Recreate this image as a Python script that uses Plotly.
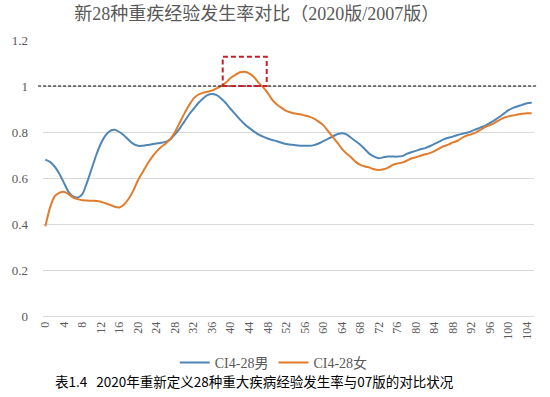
import plotly.graph_objects as go

ages = list(range(106))
tick_ages = list(range(0, 105, 4))

male = [0.68, 0.67, 0.65, 0.62, 0.58, 0.54, 0.52, 0.515, 0.53, 0.58,
        0.64, 0.70, 0.75, 0.785, 0.805, 0.81, 0.80, 0.785, 0.765, 0.748,
        0.74, 0.74, 0.743, 0.747, 0.75, 0.753, 0.757, 0.768, 0.79, 0.815,
        0.845, 0.875, 0.90, 0.925, 0.945, 0.96, 0.965, 0.96, 0.945, 0.925,
        0.90, 0.878, 0.855, 0.835, 0.818, 0.803, 0.79, 0.78, 0.772, 0.765,
        0.76, 0.753, 0.748, 0.745, 0.742, 0.74, 0.74, 0.74, 0.743, 0.75,
        0.76, 0.77, 0.78, 0.79, 0.795, 0.79, 0.775, 0.76, 0.745, 0.725,
        0.705, 0.693, 0.686, 0.69, 0.693, 0.693, 0.693, 0.695, 0.705, 0.712,
        0.718, 0.725, 0.73, 0.738, 0.748, 0.758, 0.768, 0.775, 0.78, 0.787,
        0.792, 0.797, 0.804, 0.812, 0.82, 0.828, 0.84, 0.852, 0.865, 0.88,
        0.895, 0.905, 0.912, 0.918, 0.925, 0.927]

female = [0.39, 0.47, 0.52, 0.535, 0.54, 0.53, 0.515, 0.508, 0.503, 0.502,
          0.501, 0.50, 0.497, 0.49, 0.483, 0.475, 0.472, 0.485, 0.51, 0.545,
          0.59, 0.625, 0.66, 0.69, 0.715, 0.735, 0.75, 0.77, 0.80, 0.84,
          0.88, 0.915, 0.945, 0.962, 0.97, 0.975, 0.98, 0.99, 1.00, 1.015,
          1.035, 1.048, 1.06, 1.062, 1.055, 1.04, 1.015, 0.995, 0.97, 0.94,
          0.92, 0.905, 0.892, 0.885, 0.88, 0.877, 0.872, 0.867, 0.858, 0.845,
          0.83, 0.805, 0.78, 0.755, 0.728, 0.707, 0.69, 0.67, 0.657, 0.65,
          0.645, 0.638, 0.635, 0.638, 0.645, 0.657, 0.663, 0.667, 0.675, 0.685,
          0.69, 0.697, 0.703, 0.708, 0.717, 0.728, 0.738, 0.745, 0.755, 0.762,
          0.775, 0.785, 0.79, 0.798, 0.81, 0.822, 0.83, 0.84, 0.852, 0.862,
          0.868, 0.872, 0.876, 0.879, 0.881, 0.881]

y_ticks = [0, 0.2, 0.4, 0.6, 0.8, 1.0, 1.2]
y_tick_text = ["0", "0.2", "0.4", "0.6", "0.8", "1", "1.2"]

ref_level = 1.0
box_x = [38.3, 47.8]
box_y = [1.0, 1.127]

title = "新28种重疾经验发生率对比（2020版/2007版）"
caption = "表1.4   2020年重新定义28种重大疾病经验发生率与07版的对比状况"

serif = "Liberation Serif, Noto Sans CJK SC, serif"
grey = "#595959"

fig = go.Figure()
fig.add_trace(go.Scatter(x=ages, y=male, mode="lines", name="CI4-28男",
                         line=dict(color="#4f86b6", width=2, shape="spline", smoothing=0.6)))
fig.add_trace(go.Scatter(x=ages, y=female, mode="lines", name="CI4-28女",
                         line=dict(color="#e07c2c", width=2, shape="spline", smoothing=0.6)))

fig.add_shape(type="line", xref="paper", yref="y", x0=-0.01, x1=1.006,
              y0=ref_level, y1=ref_level, line=dict(color="black", width=1.2, dash="3px,2px"))
fig.add_shape(type="rect", xref="x", yref="y", x0=box_x[0], x1=box_x[1],
              y0=box_y[0], y1=box_y[1], line=dict(color="#c8202a", width=2, dash="5px,3px"))

fig.add_annotation(text=caption, xref="paper", yref="paper", x=0.43, y=-0.235,
                   showarrow=False, xanchor="center", yanchor="middle",
                   font=dict(family="Noto Sans CJK SC", size=13.5, color="black"))

fig.update_layout(
    width=550, height=397,
    margin=dict(l=43, r=16, t=40, b=81),
    paper_bgcolor="white", plot_bgcolor="white",
    title=dict(text=title, x=0.467, xanchor="center", y=1 - 14 / 397, yanchor="middle",
               font=dict(family=serif, size=18, color=grey)),
    showlegend=True,
    legend=dict(orientation="h", x=0.47, xanchor="center", y=-0.17, yanchor="middle",
                font=dict(family=serif, size=14, color=grey), itemwidth=30,
                bgcolor="rgba(0,0,0,0)", tracegroupgap=0),
    xaxis=dict(range=[-0.5, 105.5], tickmode="array", tickvals=tick_ages,
               ticktext=[str(a) for a in tick_ages], tickangle=-90,
               tickfont=dict(family=serif, size=12, color=grey),
               showgrid=False, zeroline=False, showline=True, linecolor="#d9d9d9",
               ticks="", fixedrange=True),
    yaxis=dict(range=[0, 1.2], tickmode="array", tickvals=y_ticks, ticktext=y_tick_text,
               tickfont=dict(family=serif, size=13, color=grey),
               showgrid=True, gridcolor="#d9d9d9", gridwidth=1, zeroline=False,
               ticks="", ticklabelstandoff=14, fixedrange=True),
)

fig.write_html("out.html")
